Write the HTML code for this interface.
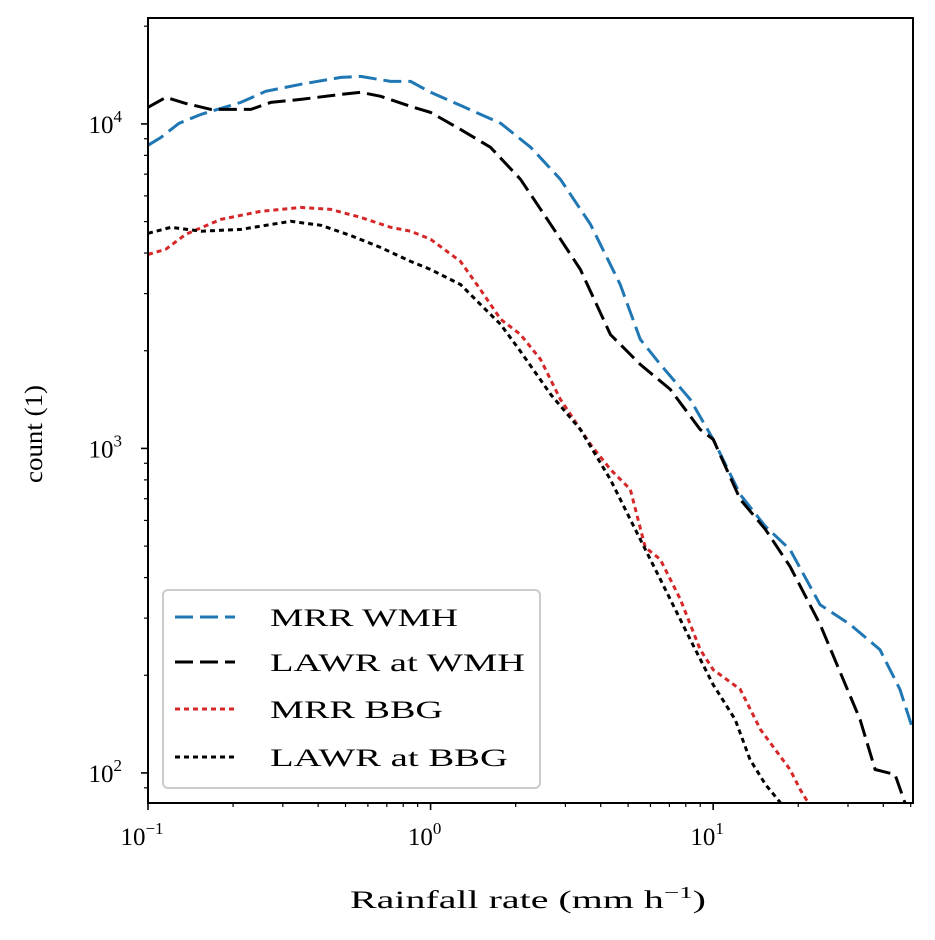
<!DOCTYPE html>
<html><head><meta charset="utf-8"><style>
html,body{margin:0;padding:0;background:#fff;}
svg text{font-family:"Liberation Serif","DejaVu Serif",serif;fill:#000;}
</style></head><body>
<svg id="chart" width="935" height="935" viewBox="0 0 935 935" xmlns="http://www.w3.org/2000/svg">
<defs><clipPath id="clip"><rect x="148" y="18" width="765" height="785"/></clipPath></defs>
<rect x="0" y="0" width="935" height="935" fill="#fff"/>
<g id="series" clip-path="url(#clip)"></g>
<g id="axes"></g>
<rect x="148" y="18" width="765" height="785" fill="none" stroke="#000" stroke-width="2"/>
<text x="350" y="908" font-size="25" textLength="356" lengthAdjust="spacingAndGlyphs">Rainfall rate (mm h<tspan dy="-10" font-size="17">−1</tspan><tspan dy="10">)</tspan></text>
<text x="0" y="0" font-size="25" text-anchor="middle" textLength="98" lengthAdjust="spacingAndGlyphs" transform="translate(42,434) rotate(-90)">count (1)</text>
<g id="legend">
<rect x="163" y="590" width="377" height="198" rx="5" fill="#fff" stroke="#ccc" stroke-width="2"/>
</g>
</svg>
<script>
const xMrrWmh=[0.1,0.111,0.1287,0.154,0.213,0.261,0.347,0.481,0.566,0.722,0.85,1.0,1.276,1.77,2.26,2.88,3.68,4.69,5.52,6.5,8.29,10,12.46,15.3,18.7,23.9,30.5,38.9,45.8,50.9];
const yMrrWmh=[8590,9080,10040,10700,11650,12600,13240,13910,14010,13520,13520,12510,11400,10040,8470,6750,4900,3200,2170,1815,1416,1066,721,575,488,330,287,240,181,136];
const xLawrWmh=[0.1,0.1157,0.136,0.167,0.231,0.272,0.347,0.481,0.566,0.666,0.85,1.0,1.276,1.63,2.08,2.66,3.39,4.33,5.52,7.05,9.0,10,12.46,15.3,18.7,23.9,33.1,37.4,44.0,47.7];
const yLawrWmh=[11250,12070,11570,11080,11080,11650,11900,12330,12510,12160,11320,10850,9620,8470,6750,4900,3560,2245,1815,1520,1144,1066,697,563,433,287,146,102.5,98.9,81];
const xMrrBbg=[0.1,0.1157,0.136,0.181,0.251,0.347,0.443,0.566,0.722,0.85,1.0,1.276,1.5,1.77,2.08,2.45,2.88,3.68,4.33,5.09,5.75,6.5,7.65,9.0,10,12.46,14.7,18.7,20.3,21.7];
const yMrrBbg=[3960,4110,4570,5080,5380,5530,5450,5150,4800,4670,4410,3770,3090,2500,2245,1880,1416,1029,862,748,495,455,343,240,208,181,136,102.5,89,81];
const xLawrBbg=[0.1,0.1206,0.154,0.213,0.32,0.409,0.521,0.666,0.85,1.0,1.276,1.5,1.77,2.08,2.66,3.39,4.33,5.09,6.5,8.29,10,11.97,13.5,15.3,17.3];
const yLawrBbg=[4600,4800,4670,4730,5010,4870,4530,4160,3770,3560,3200,2780,2410,1990,1467,1144,802,604,395,258,187,146,110,92.2,81];
const seriesNames=["MRR WMH","LAWR at WMH","MRR BBG","LAWR at BBG"];
const xTickValues=[0.1,1,10];
const xTickExps=["−1","0","1"];
const yTickValues=[100,1000,10000];
const yTickExps=["2","3","4"];

const NS="http://www.w3.org/2000/svg";
const X0=148,X1=913,Y0=803,Y1=18;
const xMin=Math.log10(0.1),xMax=Math.log10(50.95);
const yMin=Math.log10(80.8),yMax=Math.log10(21200);
function sx(v){return X0+(Math.log10(v)-xMin)/(xMax-xMin)*(X1-X0);}
function sy(v){return Y0-(Math.log10(v)-yMin)/(yMax-yMin)*(Y0-Y1);}
function mk(tag,attrs,parent){const e=document.createElementNS(NS,tag);for(const k in attrs)e.setAttribute(k,attrs[k]);parent.appendChild(e);return e;}

const styles=[
 {c:"#1f77b4",d:"18,7"},
 {c:"#000000",d:"18,7"},
 {c:"#d62728",d:"5,4"},
 {c:"#000000",d:"5,4"}];
const sdata=[[xMrrWmh,yMrrWmh],[xLawrWmh,yLawrWmh],[xMrrBbg,yMrrBbg],[xLawrBbg,yLawrBbg]];
const sNames=["line-mrr-wmh","line-lawr-wmh","line-mrr-bbg","line-lawr-bbg"];
const sg=document.getElementById("series");
sdata.forEach((s,i)=>{
 const pts=s[0].map((x,j)=>sx(x).toFixed(1)+","+sy(s[1][j]).toFixed(1)).join(" ");
 const p=mk("polyline",{points:pts,fill:"none",stroke:styles[i].c,"stroke-width":3,"stroke-dasharray":styles[i].d},sg);
 
 
});

const ag=document.getElementById("axes");
for(let e=-1;e<=1;e++){for(let m=1;m<10;m++){const v=m*Math.pow(10,e);if(v>50.95)continue;const x=sx(v);
 const t=mk("line",{x1:x,x2:x,y1:Y0,y2:Y0+(m===1?7:4),stroke:"#000","stroke-width":m===1?1.6:1.2},ag);
 
 }}
xTickValues.forEach((v,i)=>{const t=mk("text",{x:sx(v)-6,y:845,"font-size":25,"text-anchor":"middle"},ag);
 t.innerHTML='10<tspan dy="-11" font-size="17">'+xTickExps[i]+'</tspan>';
 
 });
for(let e=1;e<=4;e++){for(let m=1;m<10;m++){const v=m*Math.pow(10,e);if(v<80.8||v>21200)continue;const y=sy(v);
 const t=mk("line",{x1:X0,x2:X0-(m===1?7:4),y1:y,y2:y,stroke:"#000","stroke-width":m===1?1.6:1.2},ag);
 
 }}
yTickValues.forEach((v,i)=>{const t=mk("text",{x:122,y:sy(v)+9,"font-size":25,"text-anchor":"end"},ag);
 t.innerHTML='10<tspan dy="-11" font-size="17">'+yTickExps[i]+'</tspan>';
 
 });

const lg=document.getElementById("legend");
const ly=[617,662,709,757];
const lw=[188,255,173,238];
seriesNames.forEach((n,i)=>{
 const l=mk("line",{x1:175,x2:235,y1:ly[i],y2:ly[i],stroke:styles[i].c,"stroke-width":3,"stroke-dasharray":styles[i].d},lg);
 
 
 const t=mk("text",{x:270,y:ly[i]+9,"font-size":25,textLength:lw[i],lengthAdjust:"spacingAndGlyphs"},lg);
 t.textContent=n;
 
 
});
</script>
</body></html>
